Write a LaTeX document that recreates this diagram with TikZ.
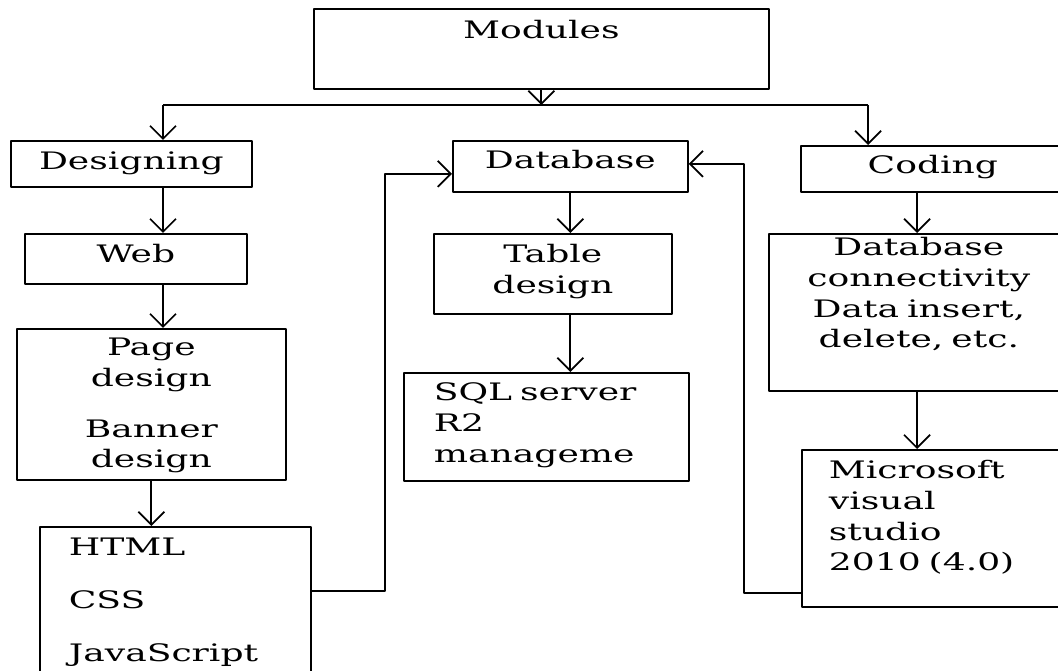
\documentclass[tikz,border=0pt]{standalone}
\usepackage{fontspec}
\setmainfont[FakeStretch=1.5]{DejaVu Serif}
\usetikzlibrary{arrows.meta}
\begin{document}
\begin{tikzpicture}[x=0.02cm,y=-0.02cm,>={Straight Barb[length=2.6mm,width=5.2mm]},
        line width=1pt, line join=round, font=\fontsize{13.7}{17.4}\selectfont,
        box/.style={draw,anchor=north west,inner ysep=0pt,align=center},
        boxl/.style={box,align=left}]
        \useasboundingbox (0,0) rectangle (1058,671);
        %khung
        \node[box,inner xsep=0.2cm,text width=8.7cm,text height=0.6cm,text depth=1cm] (mods) at (313,8) {Modules};
        \node[box,inner xsep=0.2cm,text width=4.42cm,text height=0.58cm,text depth=0.34cm] (design) at (10,140) {Designing};
        \node[box,inner xsep=0.4cm,text width=3.9cm,text height=0.56cm,text depth=0.46cm] (db) at (452,140) {Database};
        \node[box,inner xsep=0.4cm,text width=4.48cm,text height=0.56cm,text depth=0.36cm] (coding) at (800,145) {Coding};
        \node[box,inner xsep=0.2cm,text width=4.04cm,text height=0.58cm,text depth=0.42cm] (web) at (24,233) {Web};
        \node[box,inner xsep=0.2cm,text width=4.98cm,text height=0.54cm,text depth=2.48cm] (page) at (16,328) {Page\\design\\[0.4cm]Banner\\design};
        \node[boxl,inner xsep=0.58cm,text width=4.26cm,text height=0.58cm,text depth=2.7cm] (html) at (39,526) {HTML\\[0.44cm]CSS\\[0.44cm]JavaScript};
        \node[box,inner xsep=0.2cm,text width=4.36cm,text height=0.58cm,text depth=1.02cm] (table) at (433,233) {Table\\design};
        \node[boxl,inner xsep=0.6cm,text width=4.5cm,text height=0.56cm,text depth=1.6cm] (sql) at (403,372) {SQL server\\R2\\manageme};
        \node[box,inner xsep=0.2cm,text width=5.6cm,text height=0.44cm,text depth=2.7cm] (conn) at (768,233) {Database\\connectivity\\Data insert,\\delete, etc.};
        \node[boxl,inner xsep=0.54cm,text width=4.3cm,text height=0.58cm,text depth=2.56cm] (ms) at (801,449) {Microsoft\\visual\\studio\\2010 (4.0)};
        %duong noi
        \coordinate (busL) at (163,105);
        \coordinate (busR) at (868,105);
        \coordinate (colC) at (917,0);
        \draw (busL) -- (busR);
        \draw[->] (mods.south) -- (mods.south |- busL);
        \draw[->] (busL) -- (busL |- design.north);
        \draw[->] (busR) -- (busR |- coding.north);
        \draw[->] (design.south -| busL) -- (web.north -| busL);
        \draw[->] (web.south -| busL) -- (page.north -| busL);
        \draw[->] (page.south) -- (page.south |- html.north);
        \draw[->] (db.south) -- (db.south |- table.north);
        \draw[->] (db.south |- table.south) -- (db.south |- sql.north);
        \draw[->] (coding.south -| colC) -- (conn.north -| colC);
        \draw[->] (conn.south -| colC) -- (ms.north -| colC);
        \draw[->] ([yshift=-1.3cm]html.north east) -- ++(73,0) |- ([yshift=-0.15cm]db.west);
        \draw[->] ([yshift=0.3cm]ms.south west) -- ++(-57,0) |- ([yshift=0.05cm]db.east);
    \end{tikzpicture}
\end{document}
